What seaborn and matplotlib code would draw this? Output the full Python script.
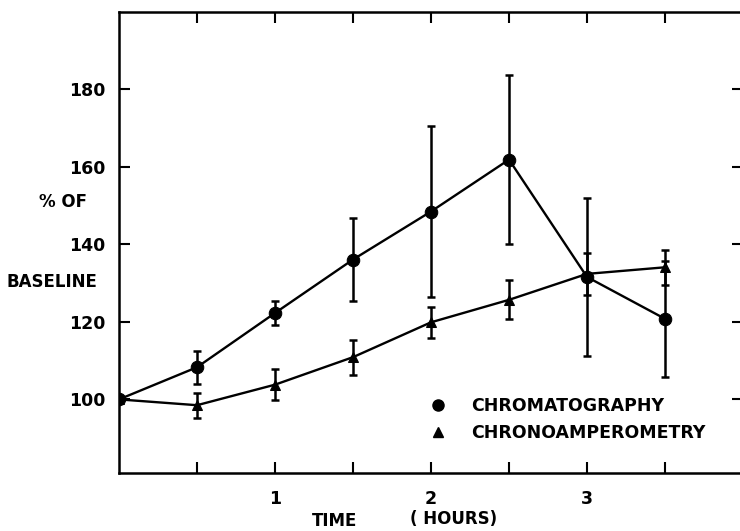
import matplotlib
matplotlib.use("Agg")
import matplotlib.pyplot as plt
from matplotlib.lines import Line2D
import seaborn as sns
import pandas as pd

# ---- data ----
time_hours = [0, 0.5, 1.0, 1.5, 2.0, 2.5, 3.0, 3.5]
chromatography = [100, 108.3, 122.3, 136.1, 148.5, 161.9, 131.6, 120.8]
chromatography_err = [0, 4.3, 3.2, 10.7, 22.0, 21.8, 20.4, 15.0]
chronoamperometry = [100, 98.5, 103.8, 110.9, 119.9, 125.7, 132.4, 134.1]
chronoamperometry_err = [0, 3.2, 4.0, 4.5, 4.0, 5.0, 5.5, 4.5]
series_names = ["CHROMATOGRAPHY", "CHRONOAMPEROMETRY"]
y_ticks = [100, 120, 140, 160, 180]
x_label_ticks = [1, 2, 3]
x_minor_ticks = [0.5, 1.0, 1.5, 2.0, 2.5, 3.0, 3.5]

sns.set_theme(style="white")
plt.rcParams['font.family'] = ['DejaVu Sans']
plt.rcParams['text.color'] = 'black'

df = pd.DataFrame({
    "time": time_hours * 2,
    "value": chromatography + chronoamperometry,
    "err": chromatography_err + chronoamperometry_err,
    "series": [series_names[0]] * len(time_hours) + [series_names[1]] * len(time_hours),
})

fig = plt.figure(figsize=(7.4, 5.31), dpi=100)
ax = fig.add_axes([119 / 740, 1 - 473 / 531, 624 / 740, (473 - 12) / 531])

markers = {series_names[0]: "o", series_names[1]: "^"}
sizes = {series_names[0]: 9, series_names[1]: 7.5}
for name in series_names:
    sub = df[df["series"] == name]
    ax.errorbar(sub["time"], sub["value"], yerr=sub["err"], fmt="none",
                ecolor="black", elinewidth=1.8, capsize=3, capthick=1.8, zorder=2)
    sns.lineplot(data=sub, x="time", y="value", ax=ax, color="black",
                 linewidth=1.7, marker=markers[name], markersize=sizes[name],
                 markeredgecolor="black", markerfacecolor="black",
                 estimator=None, sort=False, zorder=3, legend=False)

ax.set_xlim(0, 4)
ax.set_ylim(81, 200)
ax.set_xlabel("")
ax.set_ylabel("")

ax.set_yticks(y_ticks)
ax.set_yticklabels([str(v) for v in y_ticks], fontsize=12.5, fontweight="bold")
ax.set_xticks(x_minor_ticks)
ax.set_xticklabels([str(int(v)) if v in x_label_ticks else "" for v in x_minor_ticks],
                   fontsize=12.5, fontweight="bold")

ax.tick_params(axis="both", direction="in", length=8, width=1.5, colors="black",
               top=True, right=True, left=True, bottom=True)
ax.tick_params(axis="y", pad=10)
ax.tick_params(axis="x", pad=12)
for side in ["left", "bottom", "top"]:
    ax.spines[side].set_color("black")
    ax.spines[side].set_linewidth(1.8)
ax.spines["right"].set_visible(False)

fig.text(63 / 740, 1 - 202 / 531, "% OF", ha="center", va="center", fontsize=12, fontweight="bold", color="black")
fig.text(52 / 740, 1 - 282 / 531, "BASELINE", ha="center", va="center", fontsize=12, fontweight="bold", color="black")
fig.text(335 / 740, 1 - 521 / 531, "TIME", ha="center", va="center", fontsize=12, fontweight="bold", color="black")
fig.text(454 / 740, 1 - 519 / 531, "( HOURS)", ha="center", va="center", fontsize=12, fontweight="bold", color="black")

handles = [
    Line2D([], [], linestyle="none", marker="o", color="black", markersize=8),
    Line2D([], [], linestyle="none", marker="^", color="black", markersize=7),
]
leg = ax.legend(handles, series_names, loc="upper left", frameon=False,
                prop={"size": 12.5, "weight": "bold"},
                bbox_to_anchor=(421 / 740, 1 - 388 / 531), bbox_transform=fig.transFigure,
                handlelength=1.0, handletextpad=1.4, labelspacing=0.55, borderpad=0)
for t in leg.get_texts():
    t.set_color("black")

fig.savefig("out.png", dpi=100)
